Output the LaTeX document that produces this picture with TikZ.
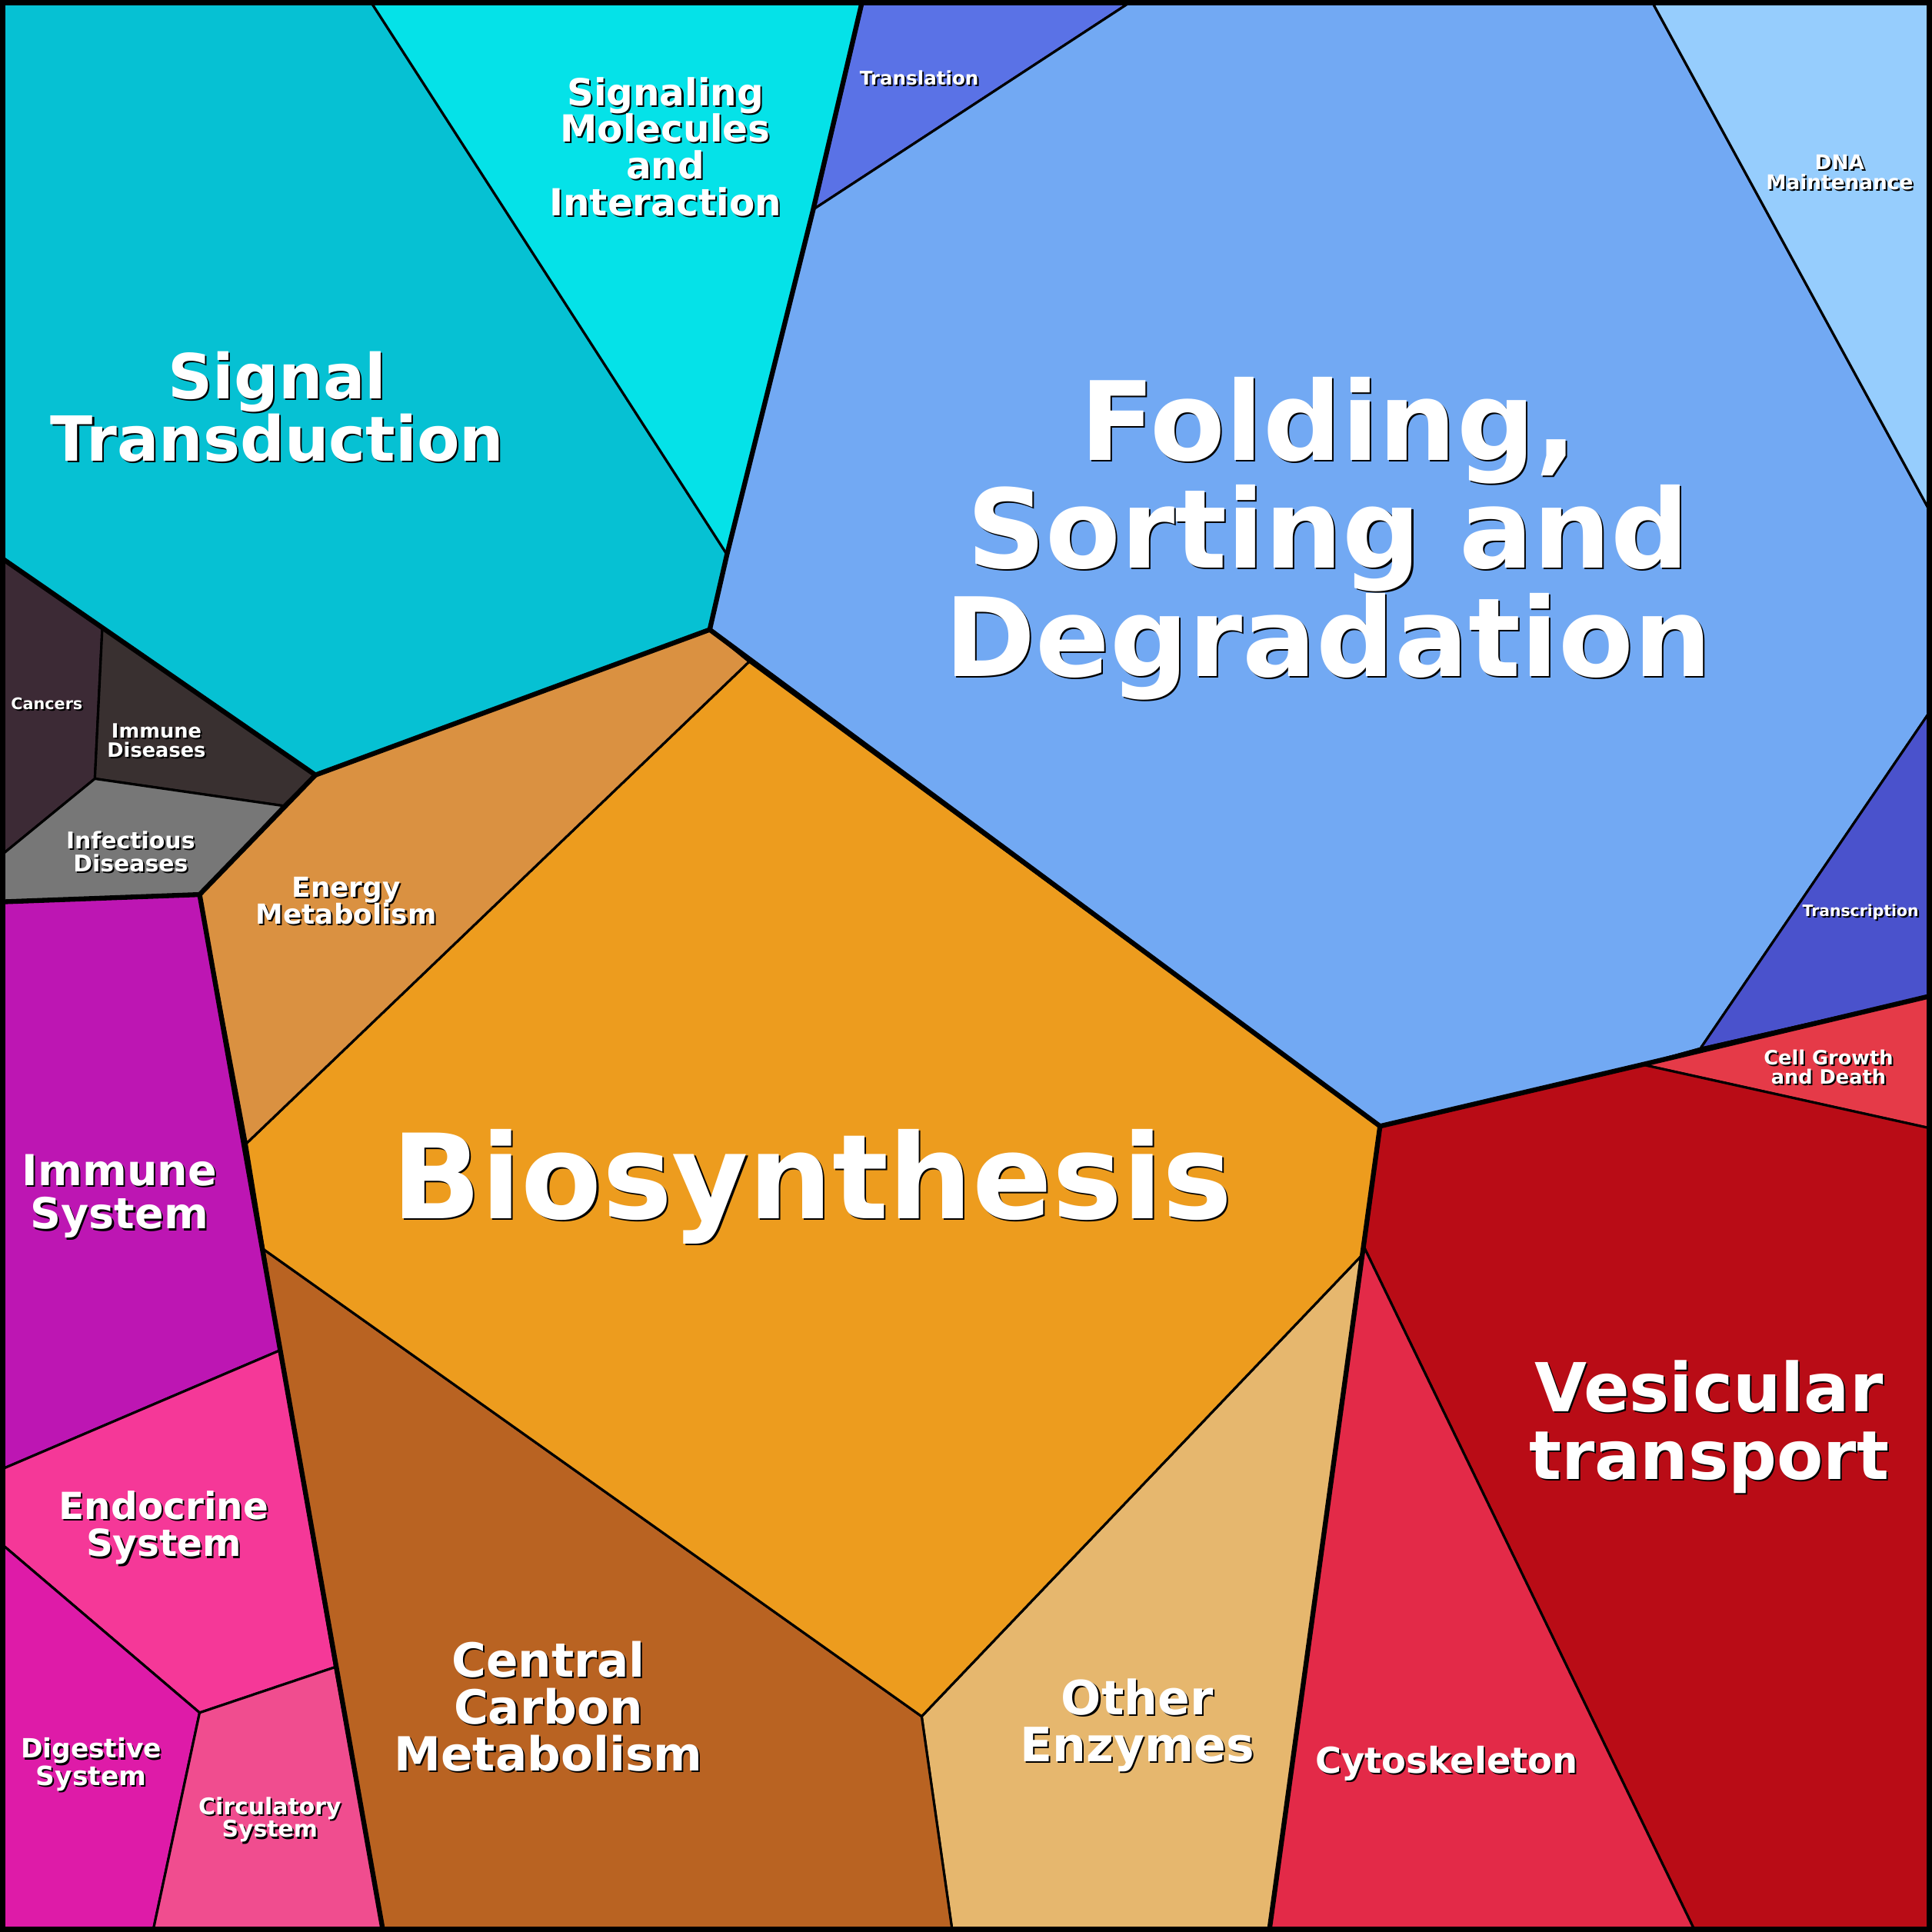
\documentclass[tikz,border=0pt]{standalone}
\usepackage{fontspec}
\setmainfont{DejaVu Sans}
\begin{document}
\begin{tikzpicture}[x=0.016020cm,y=-0.016020cm,
  cell/.style={draw=black,line width=0.9pt,line join=round},
  grp/.style={draw=black,line width=1.8pt,line join=round}]
\definecolor{cST}{HTML}{06C1D3}\definecolor{cSM}{HTML}{05E2E8}
\definecolor{cTL}{HTML}{5A72E6}\definecolor{cFO}{HTML}{72A9F3}
\definecolor{cDN}{HTML}{96CDFD}\definecolor{cTS}{HTML}{4A52CC}
\definecolor{cCG}{HTML}{E53A48}\definecolor{cVT}{HTML}{B90C16}
\definecolor{cCY}{HTML}{E32A48}\definecolor{cOE}{HTML}{E6B76E}
\definecolor{cCC}{HTML}{B96322}\definecolor{cBS}{HTML}{ED9C1E}
\definecolor{cEM}{HTML}{DA9141}\definecolor{cCA}{HTML}{3C2A35}
\definecolor{cID}{HTML}{393030}\definecolor{cIF}{HTML}{777777}
\definecolor{cIS}{HTML}{BD16B3}\definecolor{cEN}{HTML}{F53898}
\definecolor{cDI}{HTML}{DE1BA8}\definecolor{cCI}{HTML}{F04D8F}
\useasboundingbox (0,0) rectangle (1568,1568);
\newcommand\mylbl[5]{%
 \node[align=center,text=black,font=\bfseries\fontsize{#2}{#3}\selectfont,inner sep=0] at ([xshift=0.6pt,yshift=-0.6pt]#1) {#4};
 \node[align=center,text=white,font=\bfseries\fontsize{#2}{#3}\selectfont,inner sep=0] (#5) at (#1) {#4};}
% cells
\fill[cST,cell] (0,0)--(300,0)--(590,450)--(576,511)--(256,629)--(83,510)--(0,452)--cycle;
\fill[cSM,cell] (300,0)--(700,0)--(660,170)--(590,450)--cycle;
\fill[cTL,cell] (700,0)--(920,0)--(660,170)--cycle;
\fill[cFO,cell] (920,0)--(1340,0)--(1568,418)--(1568,575)--(1380,851)--(1333,864)--(1120,914)--(608,537)--(576,511)--(590,450)--(660,170)--cycle;
\fill[cDN,cell] (1340,0)--(1568,0)--(1568,418)--cycle;
\fill[cTS,cell] (1568,575)--(1568,808)--(1380,851)--cycle;
\fill[cCG,cell] (1380,851)--(1568,808)--(1568,916)--(1333,864)--cycle;
\fill[cVT,cell] (1333,864)--(1568,916)--(1568,1568)--(1376,1568)--(1106,1010)--(1120,914)--cycle;
\fill[cCY,cell] (1106,1010)--(1376,1568)--(1030,1568)--cycle;
\fill[cOE,cell] (1106,1018)--(1030,1568)--(773,1568)--(748,1393)--cycle;
\fill[cCC,cell] (214,1014)--(748,1393)--(773,1568)--(311,1568)--(272,1353)--(227,1096)--cycle;
\fill[cBS,cell] (608,537)--(1120,914)--(1106,1018)--(748,1393)--(214,1014)--(200,928)--cycle;
\fill[cEM,cell] (256,629)--(576,511)--(608,537)--(200,928)--(162,726)--cycle;
\fill[cCA,cell] (0,452)--(83,510)--(77,632)--(0,695)--cycle;
\fill[cID,cell] (83,510)--(256,629)--(230,654)--(77,632)--cycle;
\fill[cIF,cell] (0,695)--(77,632)--(230,654)--(162,726)--(0,732)--cycle;
\fill[cIS,cell] (0,732)--(162,726)--(227,1096)--(0,1193)--cycle;
\fill[cEN,cell] (0,1193)--(227,1096)--(272,1353)--(162,1390)--(0,1252)--cycle;
\fill[cDI,cell] (0,1252)--(162,1390)--(124,1568)--(0,1568)--cycle;
\fill[cCI,cell] (162,1390)--(272,1353)--(311,1568)--(124,1568)--cycle;
% group outlines
\draw[grp] (0,452)--(256,629)--(576,511)--(590,450)--(660,170)--(700,0);
\draw[grp] (576,511)--(1120,914)--(1333,864)--(1568,808);
\draw[grp] (1120,914)--(1030,1568);
\draw[grp] (256,629)--(162,726)--(0,732);
\draw[grp] (162,726)--(311,1568);
\draw[line width=2.8pt] (1.4,1.4) rectangle (1566.6,1566.6);
% labels
\mylbl{225,330}{23}{23}{Signal\\Transduction}{lST}
\mylbl{540,119}{13.8}{13.6}{Signaling\\Molecules\\and\\Interaction}{lSM}
\mylbl{746,63}{7}{8}{Translation}{lTL}
\mylbl{1078,437}{40.5}{40}{Folding,\\Sorting and\\Degradation}{lFO}
\mylbl{1493,140}{7.5}{7.5}{DNA\\Maintenance}{lDN}
\mylbl{1510,740}{5.8}{7}{Transcription}{lTS}
\mylbl{1484,866}{7.3}{7.3}{Cell Growth\\and Death}{lCG}
\mylbl{1387,1158}{25}{25}{Vesicular\\transport}{lVT}
\mylbl{1174,1431}{13.2}{14}{Cytoskeleton}{lCY}
\mylbl{923,1400}{17.5}{17.3}{Other\\Enzymes}{lOE}
\mylbl{445,1385}{17.4}{17.3}{Central\\Carbon\\Metabolism}{lCC}
\mylbl{659,963}{43.5}{44}{Biosynthesis}{lBS}
\mylbl{281,731}{10.2}{10}{Energy\\Metabolism}{lEM}
\mylbl{38,571}{5.9}{7}{Cancers}{lCA}
\mylbl{127,601}{7.3}{7.3}{Immune\\Diseases}{lID}
\mylbl{106,691}{8.5}{8.6}{Infectious\\Diseases}{lIF}
\mylbl{97,971}{15.8}{16}{Immune\\System}{lIS}
\mylbl{133,1240}{13.8}{13.8}{Endocrine\\System}{lEN}
\mylbl{74,1432}{9.8}{10}{Digestive\\System}{lDI}
\mylbl{219,1477}{8.5}{8.3}{Circulatory\\System}{lCI}
\end{tikzpicture}
\end{document}
